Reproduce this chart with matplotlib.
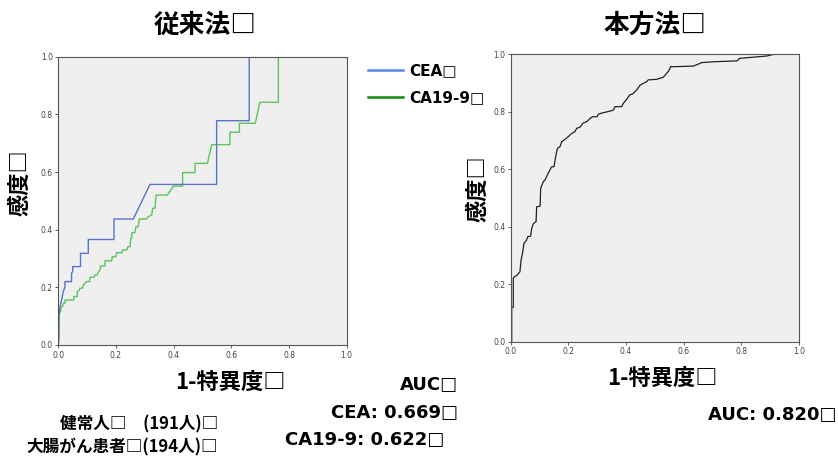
import matplotlib
matplotlib.use("Agg")
import matplotlib.pyplot as plt

plt.rcParams['font.family'] = ['Noto Sans CJK JP', 'DejaVu Sans']
latin = ['DejaVu Sans', 'Noto Sans CJK JP']

# ROC vertices (1-specificity, sensitivity)
cea_fpr = [0, 0.002, 0.002, 0.006, 0.009, 0.014, 0.017, 0.023, 0.023, 0.046, 0.046, 0.05, 0.05,
           0.077, 0.077, 0.104, 0.104, 0.193, 0.193, 0.26, 0.318, 0.549, 0.549, 0.662, 0.662, 1.0]
cea_tpr = [0, 0.02, 0.10, 0.133, 0.145, 0.168, 0.185, 0.20, 0.22, 0.22, 0.249, 0.255, 0.272,
           0.272, 0.318, 0.318, 0.366, 0.366, 0.437, 0.437, 0.557, 0.557, 0.778, 0.778, 1.0, 1.0]

ca_fpr = [0, 0.0035, 0.008, 0.009, 0.015, 0.017, 0.023, 0.023, 0.054, 0.054, 0.066, 0.066, 0.073,
          0.075, 0.084, 0.087, 0.092, 0.098, 0.108, 0.11, 0.124, 0.127, 0.135, 0.139, 0.145, 0.147,
          0.162, 0.162, 0.185, 0.187, 0.199, 0.202, 0.22, 0.223, 0.237, 0.242, 0.249, 0.251, 0.255,
          0.255, 0.266, 0.269, 0.277, 0.281, 0.306, 0.312, 0.324, 0.327, 0.335, 0.339, 0.378, 0.399,
          0.431, 0.431, 0.474, 0.474, 0.517, 0.532, 0.595, 0.595, 0.628, 0.628, 0.683, 0.699, 0.763,
          0.763, 1.0]
ca_tpr = [0, 0.11, 0.116, 0.133, 0.133, 0.145, 0.145, 0.156, 0.156, 0.168, 0.168, 0.185, 0.19,
          0.197, 0.197, 0.208, 0.214, 0.22, 0.22, 0.235, 0.235, 0.243, 0.243, 0.254, 0.26, 0.274,
          0.274, 0.292, 0.292, 0.306, 0.306, 0.32, 0.32, 0.33, 0.33, 0.341, 0.341, 0.37, 0.37,
          0.39, 0.39, 0.41, 0.41, 0.437, 0.437, 0.445, 0.451, 0.474, 0.474, 0.52, 0.52, 0.551,
          0.551, 0.598, 0.598, 0.63, 0.63, 0.695, 0.695, 0.738, 0.738, 0.769, 0.769, 0.842, 0.842,
          1.0, 1.0]

new_fpr = [0, 0.0035, 0.0035, 0.009, 0.009, 0.0127, 0.021, 0.032, 0.036, 0.042, 0.046, 0.055, 0.059,
           0.069, 0.073, 0.079, 0.088, 0.09, 0.102, 0.104, 0.113, 0.119, 0.127, 0.136, 0.142, 0.15,
           0.156, 0.162, 0.171, 0.177, 0.188, 0.2, 0.212, 0.223, 0.229, 0.24, 0.25, 0.264, 0.275,
           0.284, 0.3, 0.304, 0.321, 0.339, 0.356, 0.362, 0.385, 0.391, 0.402, 0.412, 0.425, 0.437,
           0.449, 0.46, 0.472, 0.477, 0.506, 0.529, 0.541, 0.55, 0.555, 0.57, 0.634, 0.651, 0.662,
           0.703, 0.784, 0.795, 0.83, 0.888, 0.917, 1.0]
new_tpr = [0, 0, 0.12, 0.12, 0.22, 0.226, 0.23, 0.243, 0.284, 0.313, 0.342, 0.353, 0.365,
           0.367, 0.394, 0.411, 0.417, 0.469, 0.471, 0.533, 0.556, 0.562, 0.579, 0.597, 0.608, 0.608,
           0.643, 0.672, 0.678, 0.695, 0.703, 0.713, 0.724, 0.73, 0.742, 0.745, 0.759, 0.765, 0.776,
           0.782, 0.782, 0.791, 0.796, 0.8, 0.805, 0.817, 0.817, 0.829, 0.842, 0.857, 0.863, 0.875,
           0.892, 0.898, 0.904, 0.91, 0.912, 0.919, 0.933, 0.944, 0.956, 0.956, 0.958, 0.965, 0.97,
           0.973, 0.976, 0.985, 0.988, 0.993, 1.0, 1.0]

ticks = [0.0, 0.2, 0.4, 0.6, 0.8, 1.0]
tick_labels = ["0.0", "0.2", "0.4", "0.6", "0.8", "1.0"]

W, H = 838, 459
fig = plt.figure(figsize=(W / 100, H / 100), dpi=100)


def px(x, y):
    return x / W, 1 - y / H


def setup(ax):
    ax.set_facecolor("#efefef")
    ax.set_xlim(0, 1)
    ax.set_ylim(0, 1)
    ax.set_xticks(ticks)
    ax.set_yticks(ticks)
    ax.set_xticklabels(tick_labels, family="DejaVu Sans")
    ax.set_yticklabels(tick_labels, family="DejaVu Sans")
    ax.tick_params(labelsize=5.5, colors="#444444", length=2.5, width=0.6, pad=1.5)
    for s in ax.spines.values():
        s.set_color("#555555")
        s.set_linewidth(0.8)


ax1 = fig.add_axes([58.3 / W, 114 / H, 288.4 / W, 288.3 / H])
setup(ax1)
ax1.plot(ca_fpr, ca_tpr, color="#5cc45c", lw=1.0)
ax1.plot(cea_fpr, cea_tpr, color="#5a72c8", lw=1.0)

ax2 = fig.add_axes([510.7 / W, 117.3 / H, 288.3 / W, 287.7 / H])
setup(ax2)
ax2.plot(new_fpr, new_tpr, color="#222222", lw=0.9)

bold = dict(fontweight="bold", color="black")

# titles
fig.text(*px(205, 25), "従来法□", ha="center", va="center", fontsize=18.5, **bold)
fig.text(*px(655, 25), "本方法□", ha="center", va="center", fontsize=18.5, **bold)

# axis labels
fig.text(*px(20, 183), "感度□", ha="center", va="center", rotation=90, fontsize=16, **bold)
fig.text(*px(478, 189), "感度□", ha="center", va="center", rotation=90, fontsize=16, **bold)
fig.text(*px(230, 382), "1-特異度□", ha="center", va="center", fontsize=16, **bold)
fig.text(*px(662, 378), "1-特異度□", ha="center", va="center", fontsize=16, **bold)

# legend
fig.add_artist(plt.Line2D([368 / W, 403 / W], [1 - 70 / H, 1 - 70 / H], color="#5588ee", lw=1.8))
fig.add_artist(plt.Line2D([368 / W, 403 / W], [1 - 97 / H, 1 - 97 / H], color="#118811", lw=1.8))
fig.text(*px(409, 71), "CEA□", ha="left", va="center", fontsize=11, family=latin, **bold)
fig.text(*px(409, 98), "CA19-9□", ha="left", va="center", fontsize=11, family=latin, **bold)

# AUC and sample sizes
fig.text(*px(458, 385), "AUC□", ha="right", va="center", fontsize=13, family=latin, **bold)
fig.text(*px(458, 413), "CEA: 0.669□", ha="right", va="center", fontsize=13, family=latin, **bold)
fig.text(*px(444, 440), "CA19-9: 0.622□", ha="right", va="center", fontsize=13, family=latin, **bold)
fig.text(*px(836, 415), "AUC: 0.820□", ha="right", va="center", fontsize=13, family=latin, **bold)
fig.text(*px(218, 424), "健常人□　(191人)□", ha="right", va="center", fontsize=12, **bold)
fig.text(*px(218, 447), "大腸がん患者□(194人)□", ha="right", va="center", fontsize=12, **bold)

fig.savefig("out.png", dpi=100, facecolor="white")
